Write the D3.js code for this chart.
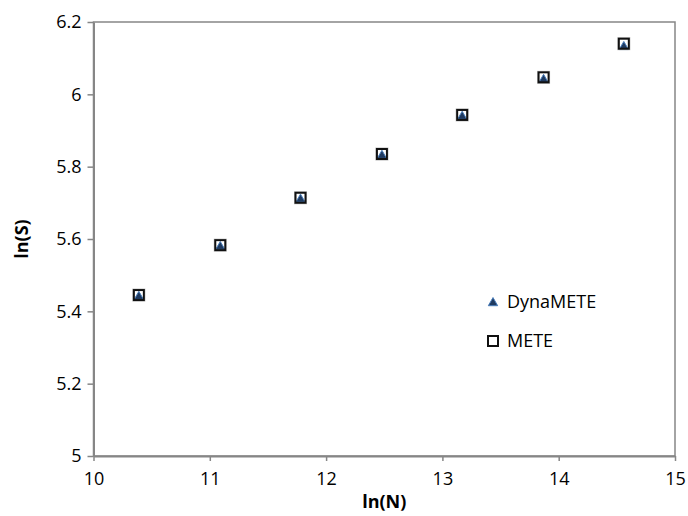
<!DOCTYPE html>
<html>
<head>
<meta charset="utf-8">
<script src="https://cdn.jsdelivr.net/npm/d3@7"></script>
<style>
    body { margin: 0; background: #fff; }
    svg { display: block; font-family: "Open Sans", sans-serif; }
    .tick text { font-size: 18px; fill: #000; }
    .axis-title { font-size: 18px; font-weight: bold; fill: #000; }
    .legend text { font-size: 18px; fill: #000; }
</style>
</head>
<body>
<svg id="chart" width="688" height="516"></svg>
<script>
    // ln(N) for each census size
    const lnN = [10.39, 11.09, 11.78, 12.48, 13.17, 13.87, 14.56]
    const lnS_dynamete = [5.443, 5.581, 5.712, 5.833, 5.941, 6.043, 6.134]
    const lnS_mete = [5.445, 5.583, 5.714, 5.835, 5.943, 6.047, 6.140]

    const xTicks = [10, 11, 12, 13, 14, 15]
    const yTicks = [5, 5.2, 5.4, 5.6, 5.8, 6, 6.2]

    const margin = {
            top: 22,
            left: 93.5,
            right: 13,
            bottom: 60
        },
        width = 688,
        height = 516

    const svg = d3.select("#chart")

    const x = d3.scaleLinear()
        .domain([10, 15])
        .range([margin.left, width - margin.right])

    const y = d3.scaleLinear()
        .domain([5, 6.2])
        .range([height - margin.bottom, margin.top])

    const axisColor = "#868686"

    // plot area border (top and right)
    svg.append("rect")
        .attr("x", x(10))
        .attr("y", y(6.2))
        .attr("width", x(15) - x(10))
        .attr("height", y(5) - y(6.2))
        .attr("fill", "none")
        .attr("stroke", axisColor)
        .attr("stroke-width", 1.5)

    const fmt = d => String(+d.toFixed(1))

    const xAxis = svg.append("g")
        .attr("transform", `translate(0,${y(5)})`)
        .call(d3.axisBottom(x).tickValues(xTicks).tickFormat(fmt).tickSize(5).tickPadding(11).tickSizeOuter(0))

    const yAxis = svg.append("g")
        .attr("transform", `translate(${x(10)},0)`)
        .call(d3.axisLeft(y).tickValues(yTicks).tickFormat(fmt).tickSize(6).tickPadding(6).tickSizeOuter(0))

    for (const g of [xAxis, yAxis]) {
        g.select(".domain").attr("stroke", axisColor).attr("stroke-width", 2)
        g.selectAll(".tick line").attr("stroke", axisColor).attr("stroke-width", 1.5)
        g.attr("font-family", null).attr("font-size", null)
    }

    svg.append("text")
        .attr("class", "axis-title")
        .attr("x", (x(10) + x(15)) / 2)
        .attr("y", 508)
        .attr("text-anchor", "middle")
        .text("ln(N)")

    svg.append("text")
        .attr("class", "axis-title")
        .attr("transform", `translate(28,${(y(5) + y(6.2)) / 2}) rotate(-90)`)
        .attr("text-anchor", "middle")
        .text("ln(S)")

    const triangle = d3.symbol().type(d3.symbolTriangle).size(38)
    const sq = 10

    function drawTriangle(sel) {
        sel.attr("d", triangle)
            .attr("fill", "#1f3a60")
            .attr("stroke", "#4a7ebb")
            .attr("stroke-width", 1)
    }

    function drawSquare(sel) {
        sel.attr("width", sq)
            .attr("height", sq)
            .attr("fill", "none")
            .attr("stroke", "#111")
            .attr("stroke-width", 2)
    }

    // DynaMETE series
    svg.append("g")
        .selectAll("path")
        .data(lnN.map((v, i) => [v, lnS_dynamete[i]]))
        .enter()
        .append("path")
        .attr("transform", d => `translate(${x(d[0])},${y(d[1]) + 1})`)
        .call(drawTriangle)

    // METE series (shadow + square)
    const meteData = lnN.map((v, i) => [v, lnS_mete[i]])
    svg.append("g")
        .selectAll("rect")
        .data(meteData)
        .enter()
        .append("rect")
        .attr("x", d => x(d[0]) - sq / 2 - 1)
        .attr("y", d => y(d[1]) - sq / 2 - 1)
        .attr("width", sq + 2)
        .attr("height", sq + 2)
        .attr("fill", "none")
        .attr("stroke", "#bbb")
        .attr("stroke-width", 1)

    svg.append("g")
        .selectAll("rect")
        .data(meteData)
        .enter()
        .append("rect")
        .attr("x", d => x(d[0]) - sq / 2)
        .attr("y", d => y(d[1]) - sq / 2)
        .call(drawSquare)

    // legend
    const legend = svg.append("g").attr("class", "legend")

    legend.append("path")
        .attr("transform", "translate(493,303)")
        .call(drawTriangle)
    legend.append("text")
        .attr("x", 507)
        .attr("y", 308)
        .text("DynaMETE")

    legend.append("rect")
        .attr("x", 493 - sq / 2)
        .attr("y", 341 - sq / 2)
        .call(drawSquare)
    legend.append("text")
        .attr("x", 507)
        .attr("y", 347)
        .text("METE")
</script>
</body>
</html>
